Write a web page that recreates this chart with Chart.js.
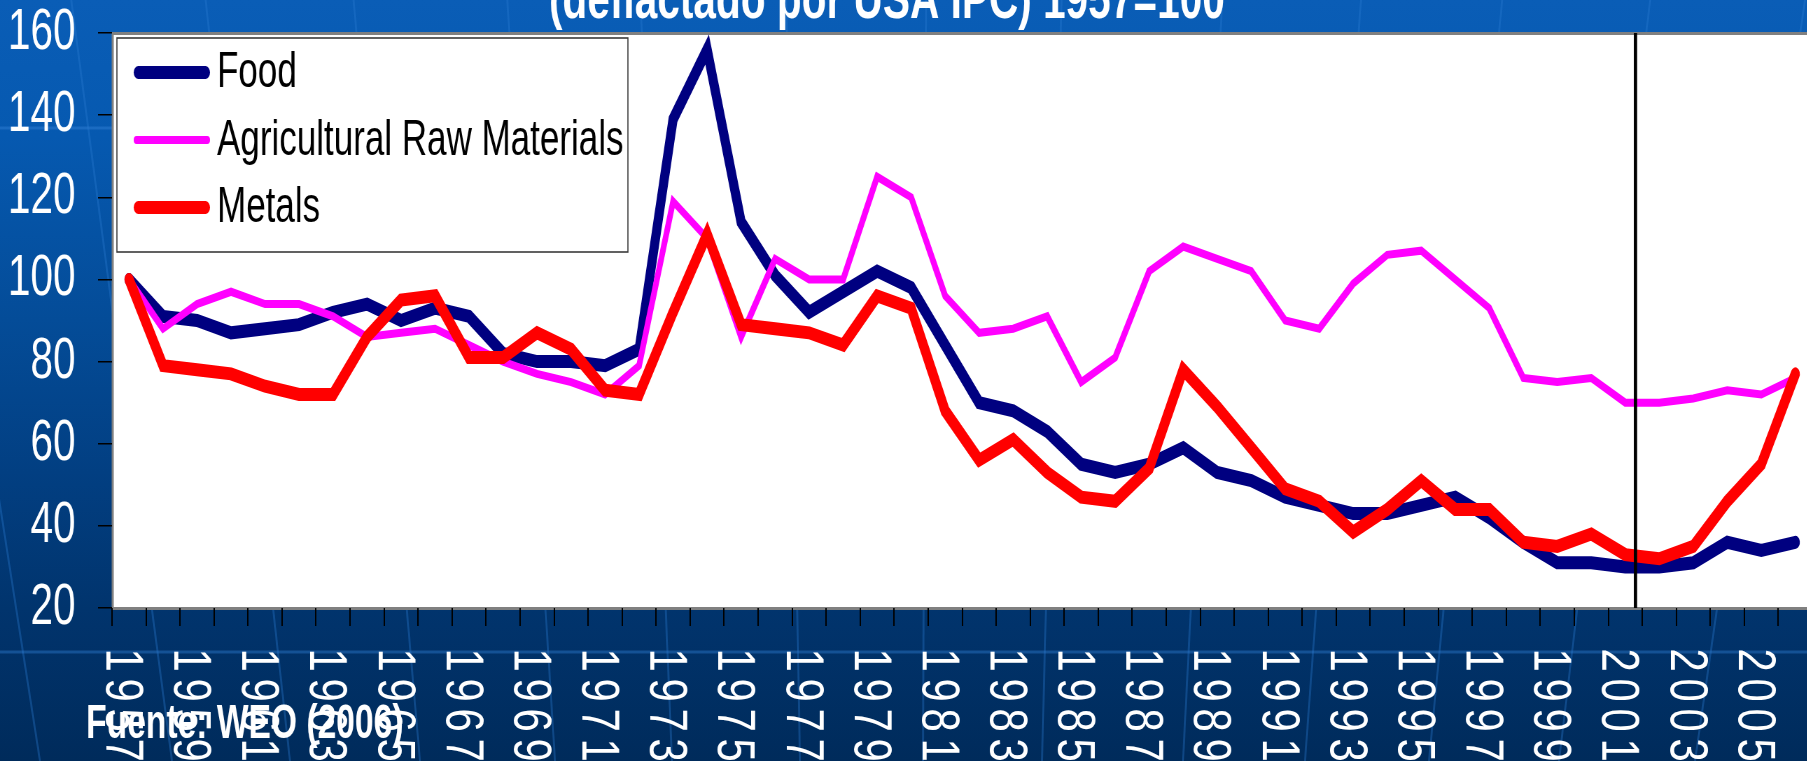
<!DOCTYPE html>
<html>
<head>
<meta charset="utf-8">
<script src="https://cdn.jsdelivr.net/npm/chart.js@4/dist/chart.umd.min.js"></script>
<style>
html,body{margin:0;padding:0;width:1807px;height:761px;overflow:hidden;}
body{position:relative;background:linear-gradient(to bottom,#0a5db6 0%,#0659b0 18%,#044c98 42%,#023f82 62%,#01346d 80%,#002b5b 100%);}
#deco{position:absolute;left:0;top:0;}
#wrap{position:absolute;left:0;top:0;width:2589px;height:761px;transform:scaleX(0.7);transform-origin:0 0;}
</style>
</head>
<body>
<svg id="deco" width="1807" height="761" xmlns="http://www.w3.org/2000/svg"></svg>
<div id="wrap"><canvas id="c" width="2589" height="761"></canvas></div>
<script>
const categories = ['1957','1958','1959','1960','1961','1962','1963','1964','1965','1966',
  '1967','1968','1969','1970','1971','1972','1973','1974','1975','1976',
  '1977','1978','1979','1980','1981','1982','1983','1984','1985','1986',
  '1987','1988','1989','1990','1991','1992','1993','1994','1995','1996',
  '1997','1998','1999','2000','2001','2002','2003','2004','2005','2006'];

const food = [100,91,90,87,88,89,92,94,90,93,
  91,82,80,80,79,83,139,156,114,101,
  92,97,102,98,84,70,68,63,55,53,
  55,59,53,51,47,45,43,43,45,47,
  42,36,31,31,30,30,31,36,34,36];

const agriRaw = [100,88,94,97,94,94,91,86,87,88,
  84,80,77,75,72,79,119,110,86,105,
  100,100,125,120,96,87,88,91,75,81,
  102,108,105,102,90,88,99,106,107,100,
  93,76,75,76,70,70,71,73,72,76];

const metals = [100,79,78,77,74,72,72,86,95,96,
  81,81,87,83,73,72,92,111,89,88,
  87,84,96,93,68,56,61,53,47,46,
  54,78,69,59,49,46,38.5,44,51,44,
  44,36,35,38,33,32,35,46,55,77];

const seriesNames = ['Food','Agricultural Raw Materials','Metals'];
const seriesColors = ['#000080','#ff00ff','#ff0000'];

const xTickLabels = ['1957','1959','1961','1963','1965','1967','1969','1971','1973','1975',
  '1977','1979','1981','1983','1985','1987','1989','1991','1993','1995',
  '1997','1999','2001','2003','2005'];
const yTickValues = [20,40,60,80,100,120,140,160];
const markerYear = 2001.3;
const titleText = '(deflactado por USA IPC) 1957=100';
const sourceText = 'Fuente: WEO (2006)';

const K = 0.7;
const FONT = '"Liberation Sans", Arial, Helvetica, sans-serif';

(function(){
  const svg = document.getElementById('deco');
  let s = '';
  s += '<line x1="0" y1="128" x2="1807" y2="128" stroke="#2c7ad0" stroke-opacity="0.55" stroke-width="3"/>';
  s += '<line x1="0" y1="652" x2="1807" y2="652" stroke="#1d5fa8" stroke-opacity="0.7" stroke-width="3"/>';
  const bx = [40,172,290,420,555,672,800,923,1042,1183,1305,1429,1559,1695];
  bx.forEach(b => {
    const slope = -(b - 900) / 5500;
    const xt = b - slope * 761;
    s += '<line x1="'+xt.toFixed(1)+'" y1="0" x2="'+b+'" y2="761" stroke="#2a7bd0" stroke-opacity="0.35" stroke-width="2"/>';
  });
  svg.innerHTML = s;
})();

const plotBg = {
  id: 'plotBg',
  beforeDraw(chart) {
    const {ctx, chartArea: a} = chart;
    ctx.save();
    ctx.fillStyle = '#ffffff';
    ctx.fillRect(a.left, a.top, a.right - a.left, a.bottom - a.top);
    ctx.strokeStyle = '#808080';
    ctx.lineWidth = 3;
    ctx.strokeRect(a.left + 1, a.top + 0.5, a.right - a.left, a.bottom - a.top);
    ctx.restore();
  }
};

const overlay = {
  id: 'overlay',
  afterDatasetsDraw(chart) {
    const {ctx, chartArea: a} = chart;
    const xs = chart.scales.x;
    const v = markerYear - Number(categories[0]);
    const px = xs.getPixelForValue(v);
    ctx.save();
    ctx.strokeStyle = '#000';
    ctx.lineWidth = 4.7;
    ctx.beginPath();
    ctx.moveTo(px, a.top);
    ctx.lineTo(px, a.bottom);
    ctx.stroke();

    ctx.fillStyle = '#fff';
    ctx.fillRect(167, 38, 730, 214);
    ctx.strokeStyle = '#3a3a3a';
    ctx.lineWidth = 1.6;
    ctx.strokeRect(167, 38, 730, 214);
    chart.data.datasets.forEach((ds, i) => {
      const base = 87 + 67.5 * i;
      const y = base - 14.5;
      const w = ds.borderWidth;
      ctx.strokeStyle = ds.borderColor;
      ctx.lineWidth = w;
      ctx.lineCap = 'round';
      ctx.beginPath();
      ctx.moveTo(191 + w / 2, y);
      ctx.lineTo(300 - w / 2, y);
      ctx.stroke();
      ctx.fillStyle = '#000';
      ctx.font = '50px ' + FONT;
      ctx.textAlign = 'left';
      ctx.textBaseline = 'alphabetic';
      ctx.fillText(ds.label, 310, base);
    });
    ctx.restore();
  },
  afterDraw(chart) {
    const {ctx} = chart;
    const xs = chart.scales.x;
    ctx.save();
    ctx.fillStyle = '#fff';
    ctx.font = 'bold 58px ' + FONT;
    ctx.textAlign = 'center';
    ctx.textBaseline = 'alphabetic';
    ctx.fillText(titleText, 1267, 18);

    ctx.font = '76px ' + FONT;
    ctx.textAlign = 'center';
    ctx.textBaseline = 'middle';
    xTickLabels.forEach(lbl => {
      const idx = categories.indexOf(lbl);
      const cx = xs.getPixelForValue(idx) - 8 / K;
      for (let j = 0; j < lbl.length; j++) {
        const cy = 660 + 30 * j;
        ctx.save();
        ctx.translate(cx, cy);
        ctx.rotate(Math.PI / 2);
        ctx.scale(0.55, 1);
        ctx.fillText(lbl[j], 0, 0);
        ctx.restore();
      }
    });

    ctx.font = 'bold 48px ' + FONT;
    ctx.textAlign = 'left';
    ctx.textBaseline = 'alphabetic';
    ctx.fillText(sourceText, 123, 738);
    ctx.restore();
  }
};

const datasets = [
  {label: seriesNames[0], data: food, borderColor: seriesColors[0], borderWidth: 13, order: 3, borderCapStyle: 'round'},
  {label: seriesNames[1], data: agriRaw, borderColor: seriesColors[1], borderWidth: 8, order: 2},
  {label: seriesNames[2], data: metals, borderColor: seriesColors[2], borderWidth: 13, order: 1, borderCapStyle: 'round'}
].map(d => Object.assign({pointRadius: 0, tension: 0, fill: false, backgroundColor: d.borderColor}, d));

new Chart(document.getElementById('c'), {
  type: 'line',
  data: {labels: categories, datasets: datasets},
  options: {
    responsive: false,
    animation: false,
    devicePixelRatio: 1,
    layout: {padding: {top: 33, left: 0, right: 0, bottom: 0}},
    plugins: {legend: {display: false}, tooltip: {enabled: false}, title: {display: false}},
    scales: {
      x: {
        type: 'category',
        offset: true,
        grid: {display: true, offset: true, drawOnChartArea: false, drawTicks: true, tickLength: 18, color: '#000', lineWidth: 2},
        border: {display: false},
        ticks: {display: false},
        afterFit(s) { s.height = 153; s.paddingLeft = 0; s.paddingRight = 0; }
      },
      y: {
        min: yTickValues[0],
        max: yTickValues[yTickValues.length - 1],
        ticks: {
          stepSize: yTickValues[1] - yTickValues[0],
          color: '#fff',
          padding: 32,
          font: {family: FONT, size: 58, lineHeight: 1}
        },
        grid: {display: true, drawOnChartArea: false, drawTicks: true, tickLength: 20, color: '#000', lineWidth: 1.5},
        border: {display: false},
        afterFit(s) { s.width = 160; s.paddingTop = 0; s.paddingBottom = 0; }
      }
    }
  },
  plugins: [plotBg, overlay]
});
</script>
</body>
</html>
